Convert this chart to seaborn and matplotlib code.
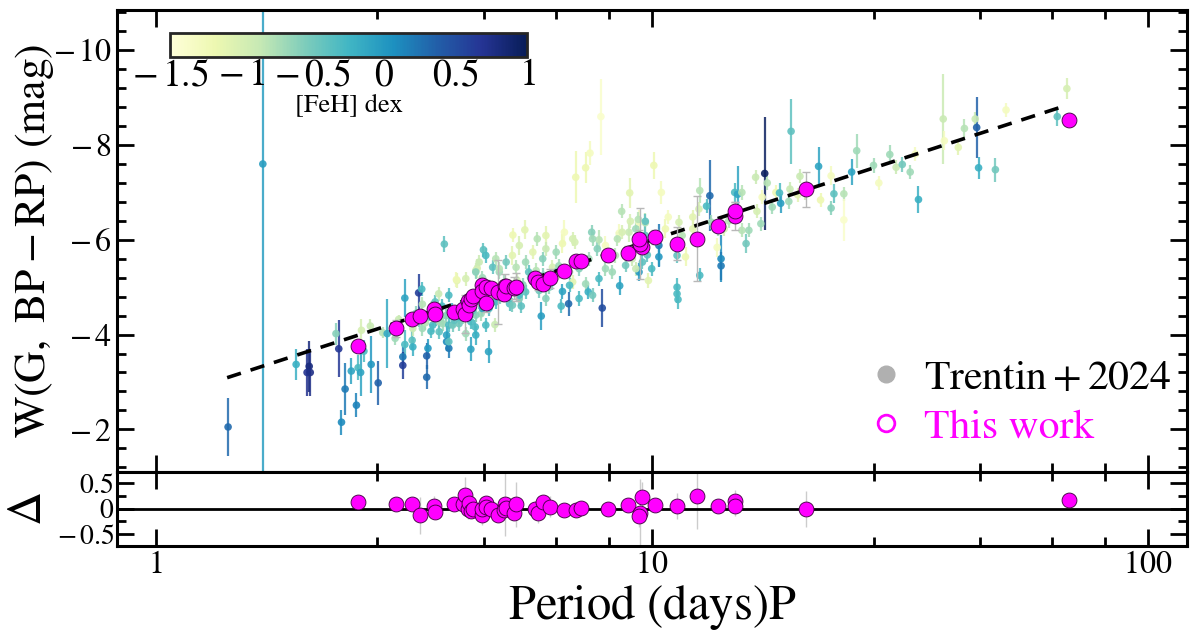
import matplotlib
matplotlib.use("Agg")
import numpy as np
import pandas as pd
import seaborn as sns
import matplotlib.pyplot as plt
from matplotlib import ticker
from matplotlib.cm import ScalarMappable
from matplotlib.colors import Normalize
from matplotlib.lines import Line2D


# Trentin+2024 sample: period (d), W (mag), error, [Fe/H]
trentin_period = [
    1.40, 1.645, 1.92, 2.02, 2.04, 2.05, 2.34, 2.31, 2.37, 2.41,
    2.48, 2.54, 2.56, 2.59, 2.60, 2.63, 2.71, 2.72, 2.81, 2.87,
    2.93, 3.04, 3.09, 3.18, 3.18, 3.15, 3.15, 3.29, 3.30, 3.39,
    3.45, 3.52, 3.52, 3.54, 3.59, 3.82, 3.44, 3.72, 4.05, 4.42,
    4.45, 4.58, 4.63, 4.56, 3.62, 3.86, 3.86, 3.90, 3.67, 3.79,
    3.90, 4.09, 4.16, 4.32, 4.41, 4.53, 4.63, 4.32, 4.42, 4.69,
    4.83, 5.25, 5.55, 6.12, 6.67, 6.93, 7.57, 7.83, 8.60, 9.00,
    9.71, 9.43, 7.83, 7.45, 6.61, 6.80, 5.99, 7.95, 8.62, 9.43,
    9.85, 9.58, 8.45, 7.47, 7.14, 6.83, 6.31, 6.03, 5.76, 5.57,
    5.33, 5.09, 4.93, 4.85, 4.78, 4.49, 4.42, 4.22, 4.04, 3.90,
    3.66, 3.56, 3.73, 3.97, 4.09, 4.42, 4.56, 4.85, 5.17, 5.41,
    5.57, 5.93, 6.22, 6.42, 6.93, 7.14, 7.36, 8.07, 8.86, 9.14,
    10.0, 3.30, 3.45, 3.73, 3.90, 4.22, 5.24, 5.46, 7.90, 7.03,
    7.36, 7.51, 9.03, 10.1, 10.46, 8.70, 9.06, 9.40, 9.71, 10.8,
    11.35, 12.1, 12.5, 13.1, 12.9, 12.45, 14.7, 9.80, 10.34, 10.34,
    11.25, 11.7, 12.5, 13.55, 13.6, 13.8, 13.8, 11.25, 11.25, 11.3,
    16.9, 19.1, 21.7, 25.9, 25.3, 28.0, 28.7, 30.2, 31.1, 32.0,
    33.2, 34.0, 34.5, 38.7, 38.9, 41.5, 42.7, 44.9, 45.2, 45.6,
    49.3, 51.8, 65.7, 68.7, 14.9, 15.2, 16.2, 17.1, 16.7, 17.8,
    18.1, 18.2, 19.0, 18.9, 19.9, 19.7, 21.9, 23.0, 23.3, 23.0,
    24.4, 24.4, 15.2, 15.7, 14.3, 16.3, 16.6, 17.5, 15.5, 20.4,
    5.24, 5.41, 5.88, 6.12, 6.42, 6.61, 7.00, 7.60, 7.77, 8.07,
    8.53, 8.72, 9.29, 9.71, 10.66, 11.52, 12.1, 13.2, 14.0, 4.93,
    5.65, 6.42, 7.14, 8.33, 9.29, 5.41, 6.12, 6.83, 7.60, 6.57,
    3.60, 3.70, 3.78, 3.85, 3.95, 4.00, 4.12, 4.20, 4.28, 4.35,
    4.48, 4.60, 4.70, 4.80, 4.95, 5.05, 5.20, 5.35, 5.50, 5.70,
    5.85, 6.05, 6.30, 6.50, 3.40, 3.50, 3.35,
]
trentin_w = [
    -2.05, -7.60, -3.37, -3.20, -3.33, -3.20, -3.70, -4.02, -2.15, -2.85,
    -3.23, -2.51, -3.30, -3.20, -4.09, -3.65, -4.18, -3.37, -2.98, -4.04,
    -4.02, -3.92, -4.32, -4.77, -3.79, -3.53, -3.35, -3.88, -3.74, -4.88,
    -4.64, -3.55, -3.10, -3.71, -4.07, -5.91, -4.96, -4.86, -5.14, -5.35,
    -5.40, -5.79, -5.67, -5.20, -4.20, -3.99, -3.85, -3.71, -4.34, -4.23,
    -4.20, -4.23, -4.37, -4.27, -4.16, -4.44, -4.20, -3.69, -3.99, -3.64,
    -4.21, -6.10, -6.21, -6.09, -6.16, -6.02, -6.16, -6.00, -6.14, -6.16,
    -6.36, -6.37, -5.18, -4.90, -4.91, -4.65, -4.39, -4.56, -5.03, -5.32,
    -5.14, -5.53, -5.67, -5.60, -5.46, -5.32, -5.42, -5.60, -5.74, -5.53,
    -5.42, -5.53, -5.32, -5.60, -5.42, -5.53, -5.32, -5.18, -5.16, -4.83,
    -4.69, -4.44, -4.27, -4.20, -4.37, -4.41, -4.55, -4.69, -4.65, -4.76,
    -4.90, -4.93, -5.00, -5.21, -5.11, -4.76, -5.07, -5.39, -5.46, -5.60,
    -5.39, -4.13, -4.13, -4.06, -3.85, -4.02, -4.62, -4.60, -8.60, -7.32,
    -7.52, -7.83, -6.99, -7.57, -7.00, -6.60, -6.39, -6.43, -6.39, -6.48,
    -6.37, -6.48, -7.04, -6.93, -6.71, -6.65, -7.00, -5.68, -5.88, -5.64,
    -5.67, -5.64, -5.25, -5.84, -6.23, -5.60, -5.45, -5.00, -4.86, -4.74,
    -7.40, -8.29, -7.55, -7.88, -7.43, -7.57, -7.20, -7.80, -7.53, -7.59,
    -7.43, -7.81, -6.85, -8.55, -8.09, -7.95, -8.35, -8.55, -8.37, -7.52,
    -7.48, -8.74, -8.60, -9.19, -6.96, -7.00, -7.32, -7.20, -6.90, -7.00,
    -6.99, -6.77, -7.07, -6.81, -7.34, -6.95, -6.84, -7.35, -6.97, -6.67,
    -6.97, -6.42, -6.20, -6.20, -6.40, -6.60, -6.34, -6.69, -5.92, -6.98,
    -5.67, -5.88, -6.02, -5.81, -5.74, -5.92, -5.95, -6.02, -5.81, -5.88,
    -6.02, -6.16, -6.23, -6.09, -6.23, -6.09, -6.23, -6.37, -6.23, -5.39,
    -5.32, -5.32, -5.39, -5.32, -5.39, -4.83, -4.76, -5.04, -4.83, -4.60,
    -4.55, -4.47, -4.60, -4.40, -4.52, -4.30, -4.58, -4.45, -4.62, -4.50,
    -4.70, -4.85, -4.55, -4.95, -4.80, -5.10, -4.90, -5.15, -5.05, -5.20,
    -5.35, -5.25, -5.10, -5.45, -4.30, -4.25, -4.45,
]
trentin_err = [
    0.62, 7.00, 0.33, 0.50, 0.54, 0.50, 0.60, 0.23, 0.26, 0.55,
    0.28, 0.26, 0.26, 0.50, 0.23, 0.23, 0.15, 0.60, 0.47, 0.12,
    0.73, 0.15, 0.10, 0.40, 0.30, 0.20, 0.28, 0.20, 0.20, 0.40,
    0.15, 0.28, 0.25, 0.20, 0.15, 0.17, 0.15, 0.15, 0.15, 0.15,
    0.20, 0.15, 0.15, 0.15, 0.15, 0.20, 0.20, 0.20, 0.15, 0.15,
    0.15, 0.15, 0.15, 0.15, 0.15, 0.15, 0.15, 0.25, 0.20, 0.25,
    0.15, 0.15, 0.20, 0.20, 0.25, 0.15, 0.15, 0.20, 0.20, 0.20,
    0.20, 0.25, 0.15, 0.15, 0.15, 0.25, 0.30, 0.40, 0.20, 0.20,
    0.15, 0.15, 0.15, 0.15, 0.15, 0.15, 0.15, 0.15, 0.15, 0.15,
    0.15, 0.15, 0.15, 0.15, 0.15, 0.15, 0.15, 0.15, 0.15, 0.15,
    0.15, 0.15, 0.15, 0.15, 0.15, 0.15, 0.15, 0.15, 0.15, 0.15,
    0.15, 0.15, 0.15, 0.15, 0.15, 0.15, 0.15, 0.15, 0.15, 0.15,
    0.15, 0.15, 0.15, 0.15, 0.15, 0.15, 0.15, 0.15, 0.80, 0.55,
    0.33, 0.25, 0.32, 0.28, 0.25, 0.15, 0.15, 0.15, 0.15, 0.15,
    0.15, 0.15, 0.27, 0.75, 0.15, 0.15, 0.20, 0.15, 0.45, 0.20,
    0.15, 0.20, 0.15, 0.20, 0.15, 0.50, 0.30, 0.20, 0.20, 0.20,
    1.20, 0.68, 0.40, 0.36, 0.28, 0.15, 0.15, 0.20, 0.15, 0.15,
    0.15, 0.15, 0.28, 0.95, 0.20, 0.15, 0.20, 0.15, 0.65, 0.23,
    0.25, 0.15, 0.20, 0.22, 0.60, 0.15, 0.15, 0.15, 0.15, 0.15,
    0.20, 0.20, 0.15, 0.15, 0.15, 0.15, 0.15, 0.20, 0.20, 0.15,
    0.15, 0.45, 0.15, 0.15, 0.15, 0.15, 0.15, 0.15, 0.20, 0.15,
    0.20, 0.20, 0.15, 0.15, 0.15, 0.20, 0.15, 0.15, 0.15, 0.20,
    0.15, 0.15, 0.15, 0.15, 0.20, 0.15, 0.20, 0.15, 0.15, 0.15,
    0.15, 0.15, 0.15, 0.15, 0.15, 0.15, 0.15, 0.15, 0.15, 0.15,
    0.15, 0.15, 0.15, 0.15, 0.15, 0.15, 0.15, 0.15, 0.15, 0.15,
    0.15, 0.15, 0.15, 0.15, 0.15, 0.15, 0.15, 0.15, 0.15, 0.15,
    0.15, 0.15, 0.15, 0.15, 0.15, 0.15, 0.15,
]
trentin_feh = [
    0.30, -0.05, -0.20, 0.70, 0.80, 0.75, 0.65, -0.60, 0.10, 0.20,
    -0.10, 0.15, -0.30, -0.10, -1.00, -0.30, -0.90, 0.00, 0.35, -0.80,
    -0.15, -0.70, -0.90, -0.10, -0.30, 0.20, 0.60, -0.40, -0.20, 0.60,
    -0.80, 0.35, 0.30, 0.00, -0.30, -0.40, -0.30, -0.90, -1.10, -0.90,
    -1.00, -0.40, -0.30, -0.70, -0.30, -0.10, 0.10, 0.20, -0.40, -0.70,
    -0.30, -0.50, -0.70, -0.30, -0.30, -0.70, -0.30, -0.10, -0.20, -0.10,
    -0.90, -1.20, -1.10, -1.10, -1.30, -1.00, -0.60, -0.80, -1.30, -0.90,
    -0.80, -1.30, -0.30, -0.20, -0.10, 0.30, -0.05, 0.50, -0.10, 0.00,
    -1.10, -0.40, -0.80, -0.70, -0.90, -0.80, -1.00, -0.60, -1.10, -0.70,
    -0.80, -0.50, -0.70, -0.80, -0.40, -0.90, -0.60, -1.00, -1.20, -0.30,
    -0.40, -0.30, -0.70, -0.50, -0.30, -0.60, -0.10, -0.30, -0.35, -0.60,
    -0.40, -0.50, -0.60, -0.90, -1.10, -0.30, -0.70, -0.70, -0.50, -0.90,
    -0.30, -0.90, -0.70, -0.40, -0.40, -0.70, -0.50, -0.40, -1.40, -1.20,
    -1.20, -1.30, -1.10, -1.20, -1.30, -0.80, -1.00, -0.80, -0.40, -1.30,
    -1.00, -1.10, -0.80, 0.30, -0.30, -1.00, -0.30, -0.40, 0.20, 0.00,
    -0.40, -1.20, -0.30, -1.30, -0.70, 0.10, 0.20, -0.30, -0.30, -0.30,
    0.95, -0.40, -0.10, -0.70, -0.10, -0.70, -1.30, -0.70, -0.90, -0.50,
    -0.70, -1.30, -0.20, -0.90, -1.30, -1.10, -0.80, -0.90, 0.35, -0.20,
    -0.50, -1.30, -0.40, -1.00, -0.10, -0.80, -0.90, -0.80, -1.30, -1.20,
    -0.30, -0.05, -0.90, -0.70, -0.90, -1.10, -1.20, -1.30, -0.40, -0.60,
    -0.80, -1.40, -0.80, -0.70, -0.80, -1.00, -0.70, -0.70, -0.50, -0.90,
    -1.10, -1.00, -0.80, -0.90, -0.70, -1.20, -1.00, -0.70, -0.60, -1.30,
    -0.80, -1.00, -0.70, -0.40, -1.20, -0.80, -1.10, -0.70, -1.00, -0.80,
    -0.40, -0.50, -0.60, -0.70, -0.90, -0.30, -0.60, -0.30, -0.50, -0.30,
    -0.40, -0.50, -0.30, -0.60, -0.20, -0.40, -0.50, -0.30, -0.70, -0.40,
    -0.50, -0.60, -0.30, -0.80, -0.50, -0.70, -0.40, -0.90, -0.60, -0.50,
    -0.80, -0.60, -0.40, -0.70, -0.50, -0.80, -0.60,
]

# This work: period (d), W (mag), error, residual and its error
work_period = [
    2.56, 3.05, 3.29, 3.41, 3.64, 3.65, 4.00, 4.16, 4.20, 4.26,
    4.29, 4.33, 4.37, 4.55, 4.56, 4.63, 4.64, 4.74, 4.90, 5.06,
    5.05, 5.08, 5.27, 5.33, 5.82, 5.90, 6.03, 6.23, 6.67, 7.05,
    7.21, 8.17, 8.94, 9.55, 9.46, 9.43, 10.17, 11.27, 12.35, 13.6,
    14.75, 14.70, 20.5, 69.5,
]
work_w = [
    -3.76, -4.13, -4.32, -4.40, -4.53, -4.44, -4.48, -4.53, -4.43, -4.70,
    -4.63, -4.75, -4.81, -5.04, -4.92, -4.67, -5.00, -4.99, -4.90, -5.03,
    -4.85, -5.02, -4.99, -5.00, -5.19, -5.10, -5.07, -5.19, -5.35, -5.56,
    -5.56, -5.67, -5.72, -5.85, -5.92, -6.01, -6.06, -5.92, -6.02, -6.30,
    -6.50, -6.60, -7.07, -8.53,
]
work_err = [
    0.10, 0.18, 0.12, 0.10, 0.15, 0.15, 0.10, 0.12, 0.40, 0.15,
    0.15, 0.12, 0.12, 0.15, 0.12, 0.20, 0.15, 0.12, 0.68, 0.25,
    0.15, 0.12, 0.23, 0.30, 0.15, 0.15, 0.12, 0.20, 0.10, 0.12,
    0.12, 0.12, 0.15, 0.15, 0.75, 0.20, 0.15, 0.35, 0.90, 0.12,
    0.30, 0.20, 0.37, 0.10,
]
work_res = [
    0.13, 0.10, 0.09, -0.13, 0.05, -0.06, 0.09, 0.09, 0.27, 0.00,
    0.12, -0.05, -0.01, -0.12, 0.00, 0.12, 0.04, -0.01, -0.12, 0.09,
    -0.03, 0.02, -0.08, 0.09, 0.00, -0.08, 0.14, 0.04, -0.02, -0.03,
    0.01, -0.01, 0.07, 0.23, -0.08, -0.15, 0.08, 0.05, 0.25, 0.05,
    0.16, 0.05, 0.00, 0.18,
]
work_res_err = [
    0.05, 0.05, 0.05, 0.36, 0.20, 0.15, 0.05, 0.10, 0.36, 0.20,
    0.10, 0.10, 0.10, 0.20, 0.10, 0.10, 0.20, 0.10, 0.10, 0.62,
    0.20, 0.15, 0.10, 0.44, 0.15, 0.20, 0.10, 0.20, 0.05, 0.05,
    0.05, 0.05, 0.10, 0.30, 0.67, 0.20, 0.10, 0.26, 0.65, 0.10,
    0.20, 0.20, 0.35, 0.07,
]

# PW relation, drawn between its two end points
fit_period = [1.394, 68.7]
fit_w = [-3.09, -8.84]

feh_ticks = [-1.5, -1, -0.5, 0, 0.5, 1]


def tex_number(v, pos=None):
    # spaced minus sign like the LaTeX-rendered labels
    if v < 0:
        return rf"$-\,{abs(v):g}$"
    return rf"${v:g}$"


sns.set_style("ticks")
plt.rcParams["font.family"] = ["STIXGeneral", "DejaVu Serif"]
plt.rcParams["mathtext.fontset"] = "stix"
for key in ("text.color", "axes.labelcolor", "xtick.color", "ytick.color",
            "xtick.labelcolor", "ytick.labelcolor"):
    plt.rcParams[key] = "black"

trentin = pd.DataFrame({"period": trentin_period, "w": trentin_w,
                        "err": trentin_err, "feh": trentin_feh})
work = pd.DataFrame({"period": work_period, "w": work_w, "err": work_err,
                     "res": work_res, "res_err": work_res_err})

cmap = plt.get_cmap("YlGnBu")
norm = Normalize(vmin=-1.5, vmax=1.0)

fig = plt.figure(figsize=(12, 6.36), dpi=100)
ax = fig.add_axes([0.0975, 0.2579, 0.8917, 0.7264])
axr = fig.add_axes([0.0975, 0.1415, 0.8917, 0.1164], sharex=ax)

# Trentin+2024, coloured by metallicity
ax.vlines(trentin["period"], trentin["w"] - trentin["err"], trentin["w"] + trentin["err"],
          colors=cmap(norm(trentin["feh"])), lw=1.6, alpha=0.85, zorder=1)
sns.scatterplot(data=trentin, x="period", y="w", hue="feh", palette="YlGnBu",
                hue_norm=norm, s=30, edgecolor="none", alpha=0.9, legend=False,
                ax=ax, zorder=2)

ax.plot(fit_period, fit_w, color="black", ls="--", lw=2.6, dashes=(4, 2.8), zorder=3)

# this work
ax.errorbar(work["period"], work["w"], yerr=work["err"], fmt="none",
            ecolor="0.72", elinewidth=1.0, capsize=3, capthick=1.0, zorder=3)
sns.scatterplot(data=work, x="period", y="w", color="magenta", edgecolor="#3a003a",
                linewidth=0.6, s=115, ax=ax, zorder=4)

# residual panel
axr.errorbar(work["period"], work["res"], yerr=work["res_err"], fmt="none",
             ecolor="0.8", elinewidth=1.0, zorder=1)
axr.axhline(0, color="black", lw=2, zorder=2)
sns.scatterplot(data=work, x="period", y="res", color="magenta", edgecolor="#3a003a",
                linewidth=0.6, s=115, ax=axr, zorder=3)

# axes styling
ax.set_xscale("log")
ax.set_xlim(0.836, 120)
ax.set_ylim(-1.1, -10.85)
axr.set_ylim(-0.73, 0.72)

num_fmt = ticker.FuncFormatter(tex_number)
ax.xaxis.set_major_locator(ticker.FixedLocator([1, 10, 100]))
ax.xaxis.set_minor_locator(ticker.FixedLocator([2.8, 4.6, 6.4, 8.2, 28, 46, 64, 82]))
ax.xaxis.set_major_formatter(num_fmt)
ax.xaxis.set_minor_formatter(ticker.NullFormatter())
ax.yaxis.set_major_locator(ticker.MultipleLocator(2))
ax.yaxis.set_minor_locator(ticker.MultipleLocator(0.4))
ax.yaxis.set_major_formatter(num_fmt)
axr.yaxis.set_major_locator(ticker.MultipleLocator(0.5))
axr.yaxis.set_minor_locator(ticker.MultipleLocator(0.25))
axr.yaxis.set_major_formatter(num_fmt)

for a in (ax, axr):
    a.tick_params(which="both", direction="in", top=True, right=True, width=2,
                  labelsize=23, color="black", labelcolor="black")
    a.tick_params(which="major", length=12)
    a.tick_params(which="minor", length=6.5)
    for s in a.spines.values():
        s.set_linewidth(2.2)
        s.set_color("black")
    a.set_xlabel("")
    a.set_ylabel("")
ax.tick_params(labelbottom=False)
axr.tick_params(axis="y", pad=2, labelsize=20)

ax.set_ylabel(r"$\mathrm{W}\left(\mathrm{G,\ BP-RP}\right)\ \left(\mathrm{mag}\right)$",
              fontsize=31.5)
ax.yaxis.set_label_coords(-0.057, 0.5)
axr.set_ylabel(r"$\Delta$", fontsize=34)
axr.yaxis.set_label_coords(-0.062, 0.5)
axr.set_xlabel(r"$\mathrm{Period}\ \left(\mathrm{days}\right)\mathrm{P}$", fontsize=35,
               labelpad=2)

# legend
handles = [
    Line2D([], [], ls="", marker="o", color="#b0b0b0", markersize=12),
    Line2D([], [], ls="", marker="o", markerfacecolor="none", markeredgecolor="magenta",
           markeredgewidth=2, markersize=12),
]
leg = ax.legend(handles, [r"$\mathrm{Trentin+2024}$", "This work"], loc="lower right",
                bbox_to_anchor=(1.02, -0.026), frameon=False, fontsize=30,
                handlelength=1.0, handletextpad=0.4, labelspacing=0.25)
leg.get_texts()[1].set_color("magenta")

# metallicity colour bar
cax = fig.add_axes([0.1417, 0.9104, 0.2975, 0.0377])
cb = fig.colorbar(ScalarMappable(norm=norm, cmap=cmap), cax=cax, orientation="horizontal")
cb.set_ticks(feh_ticks)
cb.ax.xaxis.set_major_formatter(num_fmt)
cb.ax.tick_params(length=0, labelsize=27, pad=1)
cb.outline.set_linewidth(2)
cb.set_label("[FeH] dex", fontsize=19, labelpad=0)

fig.savefig("out.png", dpi=100)
